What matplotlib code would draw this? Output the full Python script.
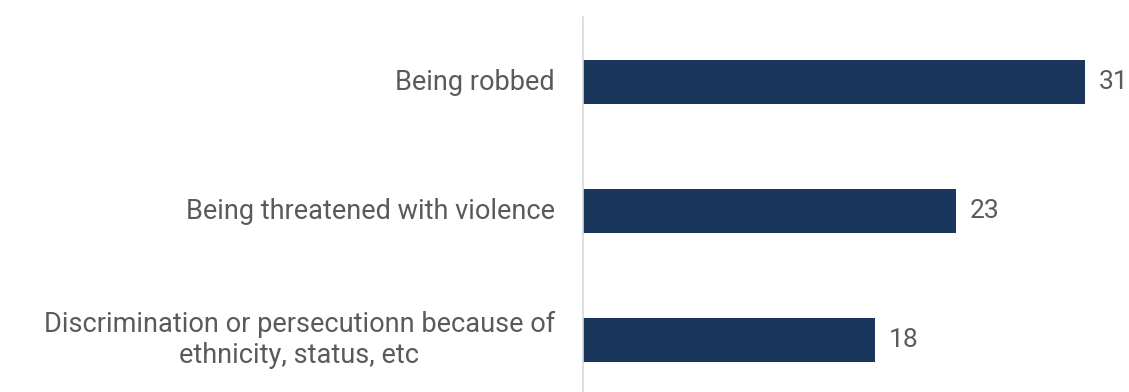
import matplotlib.pyplot as plt
import matplotlib.transforms as mtransforms

categories = ["Being robbed",
              "Being threatened with violence",
              "Discrimination or persecutionn because of\nethnicity, status, etc"]
values = [31, 23, 18]

BAR_COLOR = "#1b365d"
TEXT_COLOR = "#5a5a5a"

plt.rcParams['font.family'] = ['Roboto', 'DejaVu Sans']

fig = plt.figure(figsize=(11.29, 3.92), dpi=100)
ax = fig.add_axes([583 / 1129, 0, 1 - 583 / 1129, 1 - 17 / 392])

pos = list(range(len(categories)))
ax.barh(pos, values, height=0.34, color=BAR_COLOR)

# value labels just past the bar ends
for p, v in zip(pos, values):
    ax.text(v + 0.85, p, str(v), va="center", ha="left",
            fontsize=19, color=TEXT_COLOR)

# category labels: block right-aligned to the axis, lines centred
trans = mtransforms.blended_transform_factory(ax.transAxes, ax.transData)
for p, cat in zip(pos, categories):
    ax.text(-28 / 546, p, cat, transform=trans, ha="right", va="center",
            multialignment="center", fontsize=19.5, color=TEXT_COLOR,
            linespacing=1.2)

ax.set_xlim(0, 33.7)
ax.set_ylim(2.403, -0.504)
ax.set_yticks([])
ax.set_xticks([])

for side in ["top", "right", "bottom"]:
    ax.spines[side].set_visible(False)
ax.spines["left"].set_color("#d9d9d9")
ax.spines["left"].set_linewidth(1.2)

fig.savefig("out.png", dpi=100)
